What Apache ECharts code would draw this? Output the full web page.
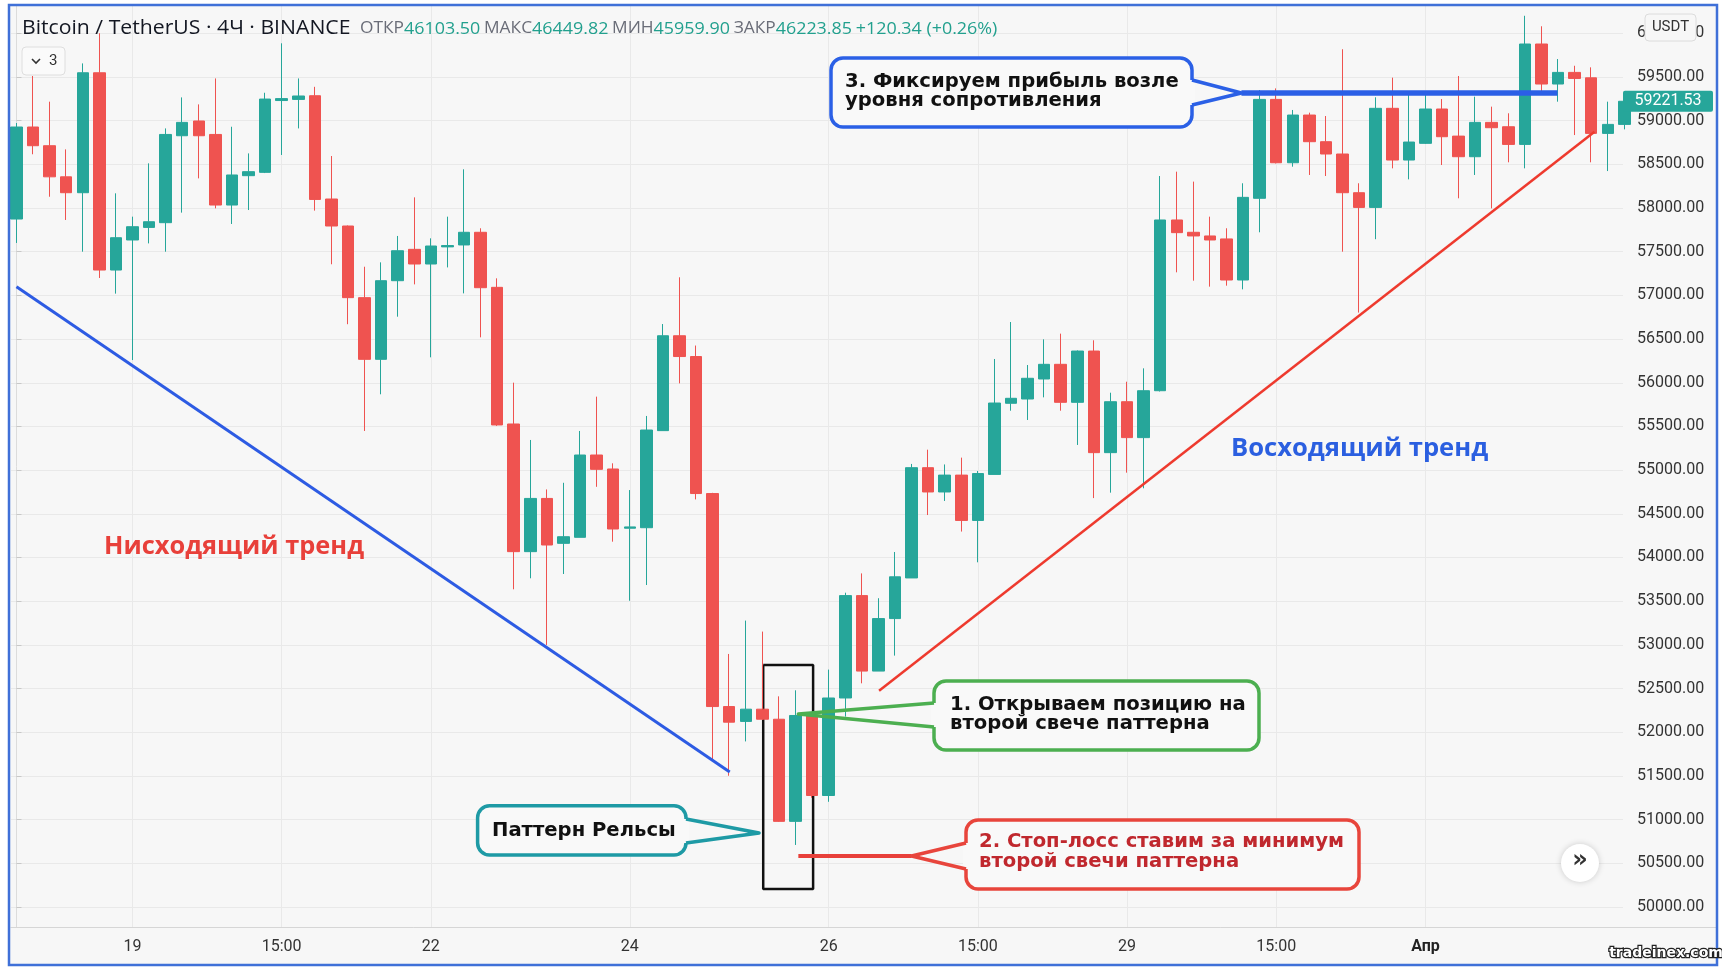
<!DOCTYPE html>
<html>
<head>
<meta charset="utf-8">
<script src="https://cdn.jsdelivr.net/npm/echarts@6/dist/echarts.min.js"></script>
<style>
html,body{margin:0;padding:0;background:#ffffff;}
#c{width:1722px;height:970px;}
</style>
</head>
<body>
<div id="c"></div>
<script>
// ---------- data ----------
const xTickIdx = [7, 16, 25, 37, 49, 58, 67, 76, 85];
const xTickLabels = ['19', '15:00', '22', '24', '26', '15:00', '29', '15:00', 'Апр'];
const yTicks = [50000, 50500, 51000, 51500, 52000, 52500, 53000, 53500, 54000, 54500, 55000,
  55500, 56000, 56500, 57000, 57500, 58000, 58500, 59000, 59500, 60000];

const opens = [57874,58927,58713,58357,58175,59548,57290,57634,57778,57832,
  58827,58996,58842,58034,58370,58408,59230,59243,59285,58103,
  57794,56974,56268,57168,57527,57359,57555,57577,57722,57092,
  55528,54067,54676,54162,54231,55173,55013,54335,54341,55452,
  56538,56300,54732,52294,52124,52264,52149,50980,52192,51276,
  52392,53564,52700,53301,53766,55028,54750,54943,54424,54951,
  55765,55814,56043,56211,55776,56363,55200,55783,55372,55909,
  57863,57722,57680,57646,57176,58111,59243,58518,59064,58759,
  58618,58175,58007,59141,58549,58740,59133,58823,58587,58980,
  58930,58728,59877,59419,59552,59490,58854,58957];
const closes = [58927,58713,58357,58175,59548,57290,57660,57786,57843,58842,
  58980,58827,58034,58378,58416,59247,59252,59282,58098,57794,
  56974,56268,57168,57511,57359,57565,57570,57722,57088,55517,
  54067,54676,54143,54238,55173,55009,54326,54350,55459,56538,
  56300,54732,52294,52115,52264,52149,50980,52192,51276,52392,
  53564,52700,53301,53779,55028,54750,54943,54424,54961,55768,
  55822,56051,56211,55776,56363,55200,55783,55372,55909,57863,
  57718,57680,57634,57176,58122,59243,58518,59064,58759,58618,
  58175,58007,59141,58549,58755,59133,58816,58587,58980,58919,
  58728,59877,59419,59552,59483,58854,58957,59221.53];
const lows = [57600,58615,58129,57863,57500,57199,57020,56260,57595,57500,
  57947,58339,57996,57817,57977,58400,58607,58911,57970,57356,
  56670,55448,55868,56756,57126,56291,57320,57023,56520,55506,
  53636,53762,52999,53811,54231,54809,54181,53505,53685,55452,
  55993,54665,51692,51502,51895,52140,50975,50710,51250,51204,
  52179,52560,52700,52877,53766,54486,54647,54297,53945,54951,
  55680,55574,55833,55680,55288,54680,54742,54971,54792,55900,
  57264,57168,57100,57111,57069,57722,58510,58473,58378,58366,
  57500,56803,57643,58454,58328,58735,58492,58111,58378,57996,
  58523,58454,59314,59217,58835,58523,58423,58900];
const highs = [58973,59511,59217,58671,59655,60000,58168,57901,58511,58911,
  59266,59186,59483,58930,58625,59319,59885,59483,59387,58595,
  57800,57328,57378,57680,58122,57653,57901,58443,57768,57195,
  56001,55345,54779,54855,55448,55841,55078,54772,55620,56672,
  57207,56426,54740,52896,53278,53152,52411,52480,52200,52717,
  53597,53818,53534,54063,55071,55234,55065,55143,54990,56272,
  56695,56203,56497,56562,56370,56486,55886,56012,56165,58366,
  58416,58302,57901,57768,58283,59350,59369,59122,59091,59053,
  59817,58283,59267,59492,59300,59300,59247,59511,59274,59160,
  59084,60200,60080,59705,59628,59610,59217,59237];

const lastPrice = 59221.53;
// annotation lines, in [candle index, price]
const downTrend = [[0, 57100], [43.03, 51545]];
const upTrend = [[52.04, 52476], [95.2, 58872]];
const resistance = [[73.9, 59316], [92.97, 59316]];
const stopLoss = [[47.17, 50584], [54.0, 50584]];
const patternBox = [[45.05, 52770], [48.06, 52770], [48.06, 50206], [45.05, 50206], [45.05, 52770]];
const entryPoint = [47.17, 52209];
const patternTip = [44.8, 50847];

// ---------- chart ----------
const candleData = opens.map((o, i) => [i, o, closes[i], lows[i], highs[i]]);
const UP = '#26a69a', DOWN = '#ef5350';

const chart = echarts.init(document.getElementById('c'));
const option = {
  backgroundColor: '#f7f7f7',
  animation: false,
  grid: { left: 11, right: 99, top: 6, bottom: 43, containLabel: false },
  xAxis: {
    type: 'value', min: -0.33, max: 96.92,
    axisLine: { show: true, onZero: false, lineStyle: { color: '#d6d6d6', width: 1 } },
    axisTick: { show: false, customValues: xTickIdx },
    splitLine: { show: true, lineStyle: { color: '#e9e9e9', width: 1 } },
    axisLabel: {
      customValues: xTickIdx, margin: 12, color: '#333', fontSize: 16, fontFamily: 'Roboto',
      formatter: v => { const k = xTickIdx.indexOf(Math.round(v)); const s = k >= 0 ? xTickLabels[k] : ''; return s === 'Апр' ? '{b|' + s + '}' : s; },
      rich: { b: { fontWeight: 'bold', fontSize: 16, color: '#222', fontFamily: 'Roboto' } }
    }
  },
  yAxis: {
    type: 'value', position: 'right', min: 49771, max: 60312, scale: true,
    axisLine: { show: true, lineStyle: { color: '#dcdcdc', width: 1 } },
    axisTick: { show: true, length: 5, customValues: yTicks, lineStyle: { color: '#c8c8c8' } },
    splitLine: { show: true, lineStyle: { color: '#e9e9e9', width: 1 } },
    axisLabel: { customValues: yTicks, margin: 14, color: '#333', fontSize: 16, fontFamily: 'Roboto',
      formatter: v => v.toFixed(2) }
  },
  series: [
    { type: 'line', data: patternBox, symbol: 'none', z: 1, silent: true,
      lineStyle: { color: '#111', width: 2.5 } },
    { type: 'candlestick', data: candleData, encode: { x: 0, y: [1, 2, 3, 4] }, barWidth: 12, z: 3,
      itemStyle: { color: UP, color0: DOWN, borderColor: UP, borderColor0: DOWN, borderWidth: 1 } },
    { type: 'line', data: downTrend, symbol: 'none', z: 5, silent: true,
      lineStyle: { color: '#2d5be3', width: 3 } },
    { type: 'line', data: upTrend, symbol: 'none', z: 5, silent: true,
      lineStyle: { color: '#ee3a2e', width: 2.5 } },
    { type: 'line', data: resistance, symbol: 'none', z: 5, silent: true,
      lineStyle: { color: '#2b5fe6', width: 5.5 } },
    { type: 'line', data: stopLoss, symbol: 'none', z: 5, silent: true,
      lineStyle: { color: '#e8403a', width: 4 } }
  ]
};
chart.setOption(option);

const px = p => chart.convertToPixel({ gridIndex: 0 }, p);
const BOXBG = '#f9f9f9';
const CFONT = 'bold 19.6px "DejaVu Sans"';

function callout(rect, color, e1, e2, tip, text, tcolor, tx, ty, lh) {
  return [
    { type: 'rect', z: 100, shape: { x: rect[0], y: rect[1], width: rect[2], height: rect[3], r: 12 },
      style: { fill: BOXBG, stroke: color, lineWidth: 3.5 } },
    { type: 'line', z: 101, shape: { x1: e1[0], y1: e1[1], x2: e2[0], y2: e2[1] },
      style: { stroke: BOXBG, lineWidth: 6 } },
    { type: 'polyline', z: 102, shape: { points: [e1, tip, e2] },
      style: { stroke: color, lineWidth: 3.5, fill: null, lineJoin: 'round' } },
    { type: 'text', z: 103, style: { text: text, x: tx, y: ty, fill: tcolor, font: CFONT,
      lineHeight: lh, verticalAlign: 'middle', align: 'left' } }
  ];
}

const tipRes = px(resistance[0]);
const tipEntry = px(entryPoint);
const tipPattern = px(patternTip);
const tipStop = px(stopLoss[1]);
const lp = px([96, lastPrice]);

let g = [];
// white margins outside the frame
g.push({ type: 'rect', z: 200, shape: { x: 0, y: 0, width: 1722, height: 4 }, style: { fill: '#fff' } });
g.push({ type: 'rect', z: 200, shape: { x: 0, y: 966, width: 1722, height: 4 }, style: { fill: '#fff' } });
g.push({ type: 'rect', z: 200, shape: { x: 0, y: 0, width: 8, height: 970 }, style: { fill: '#fff' } });
g.push({ type: 'rect', z: 200, shape: { x: 1718, y: 0, width: 4, height: 970 }, style: { fill: '#fff' } });
g.push({ type: 'rect', z: 201, shape: { x: 9, y: 5, width: 1708, height: 960 },
  style: { fill: null, stroke: '#3f70d8', lineWidth: 2.5 } });
// x-axis line continuation under price scale
g.push({ type: 'line', z: 50, shape: { x1: 1623, y1: 927.5, x2: 1717, y2: 927.5 }, style: { stroke: '#d6d6d6', lineWidth: 1 } });

// header
g.push({ type: 'text', z: 110, x: 22, y: 28, scaleX: 1.06, style: { text: 'Bitcoin / TetherUS · 4Ч · BINANCE', x: 0, y: 0,
  font: '20px "Open Sans"', fill: '#131722', verticalAlign: 'middle' } });
g.push({ type: 'text', z: 110, x: 360, y: 29, scaleX: 1.118, style: {
  text: '{l|ОТКР}{v|46103.50} {l|МАКС}{v|46449.82} {l|МИН}{v|45959.90} {l|ЗАКР}{v|46223.85} {v|+120.34 (+0.26%)}',
  x: 0, y: 0, verticalAlign: 'middle',
  rich: { l: { fill: '#6a6d78', font: '15.5px "Open Sans"' }, v: { fill: '#22a08e', font: '16px "Open Sans"' } } } });
// "v 3" box
g.push({ type: 'rect', z: 110, shape: { x: 22, y: 47, width: 43, height: 28, r: 4 },
  style: { fill: '#fafafa', stroke: '#dedede', lineWidth: 1 } });
g.push({ type: 'polyline', z: 111, shape: { points: [[32, 59], [36, 63], [40, 59]] },
  style: { stroke: '#333', lineWidth: 1.6, fill: null } });
g.push({ type: 'text', z: 111, style: { text: '3', x: 49, y: 61, font: '15px Roboto', fill: '#333', verticalAlign: 'middle' } });
// USDT box
g.push({ type: 'rect', z: 110, shape: { x: 1645, y: 14, width: 51, height: 27, r: 4 },
  style: { fill: '#f7f7f7', stroke: '#dcdcdc', lineWidth: 1 } });
g.push({ type: 'text', z: 111, style: { text: 'USDT', x: 1670.5, y: 27.5, font: '15px Roboto', fill: '#333',
  align: 'center', verticalAlign: 'middle' } });
// last price label
g.push({ type: 'rect', z: 110, shape: { x: 1623, y: lp[1] - 10.5, width: 90, height: 21, r: 2 }, style: { fill: UP } });
g.push({ type: 'text', z: 111, style: { text: lastPrice.toFixed(2), x: 1668, y: lp[1], font: '16px Roboto',
  fill: '#fff', align: 'center', verticalAlign: 'middle' } });

// trend captions
g.push({ type: 'text', z: 90, style: { text: 'Нисходящий тренд', x: 104, y: 547, font: 'bold 25.4px "Open Sans"',
  fill: '#e8403a', verticalAlign: 'middle' } });
g.push({ type: 'text', z: 90, style: { text: 'Восходящий тренд', x: 1231, y: 449, font: 'bold 25.6px "Open Sans"',
  fill: '#2b5fe0', verticalAlign: 'middle' } });

// callouts
g = g.concat(callout([831, 58, 361, 69], '#2b60e6', [1192, 80], [1192, 105], tipRes,
  '3. Фиксируем прибыль возле\nуровня сопротивления', '#111', 845, 91.5, 18.5));
g = g.concat(callout([934, 681, 325, 69], '#4caf50', [934, 703], [934, 727], tipEntry,
  '1. Открываем позицию на\nвторой свече паттерна', '#111', 950, 714.5, 18.5));
g = g.concat(callout([966, 820, 393, 69], '#e8453c', [966, 843], [966, 869], tipStop,
  '2. Стоп-лосс ставим за минимум\nвторой свечи паттерна', '#c0282e', 979, 852, 20));
g = g.concat(callout([477.6, 805.7, 208.4, 49.3], '#1e9aa5', [686, 819], [686, 843], tipPattern,
  'Паттерн Рельсы', '#111', 492, 830.5, 20));

// scroll button
g.push({ type: 'circle', z: 110, shape: { cx: 1580, cy: 863, r: 19 },
  style: { fill: '#ffffff', shadowBlur: 6, shadowColor: 'rgba(0,0,0,0.18)' } });
g.push({ type: 'text', z: 111, style: { text: '»', x: 1580, y: 861, font: 'bold 24px "DejaVu Sans"', fill: '#333',
  align: 'center', verticalAlign: 'middle' } });
// watermark
g.push({ type: 'text', z: 202, style: { text: 'tradeinex.com', x: 1666, y: 953, font: 'bold 14px "DejaVu Sans"',
  fill: '#ffffff', stroke: '#222', lineWidth: 2.5, align: 'center', verticalAlign: 'middle' } });

chart.setOption({ graphic: { elements: g } });
</script>
</body>
</html>
